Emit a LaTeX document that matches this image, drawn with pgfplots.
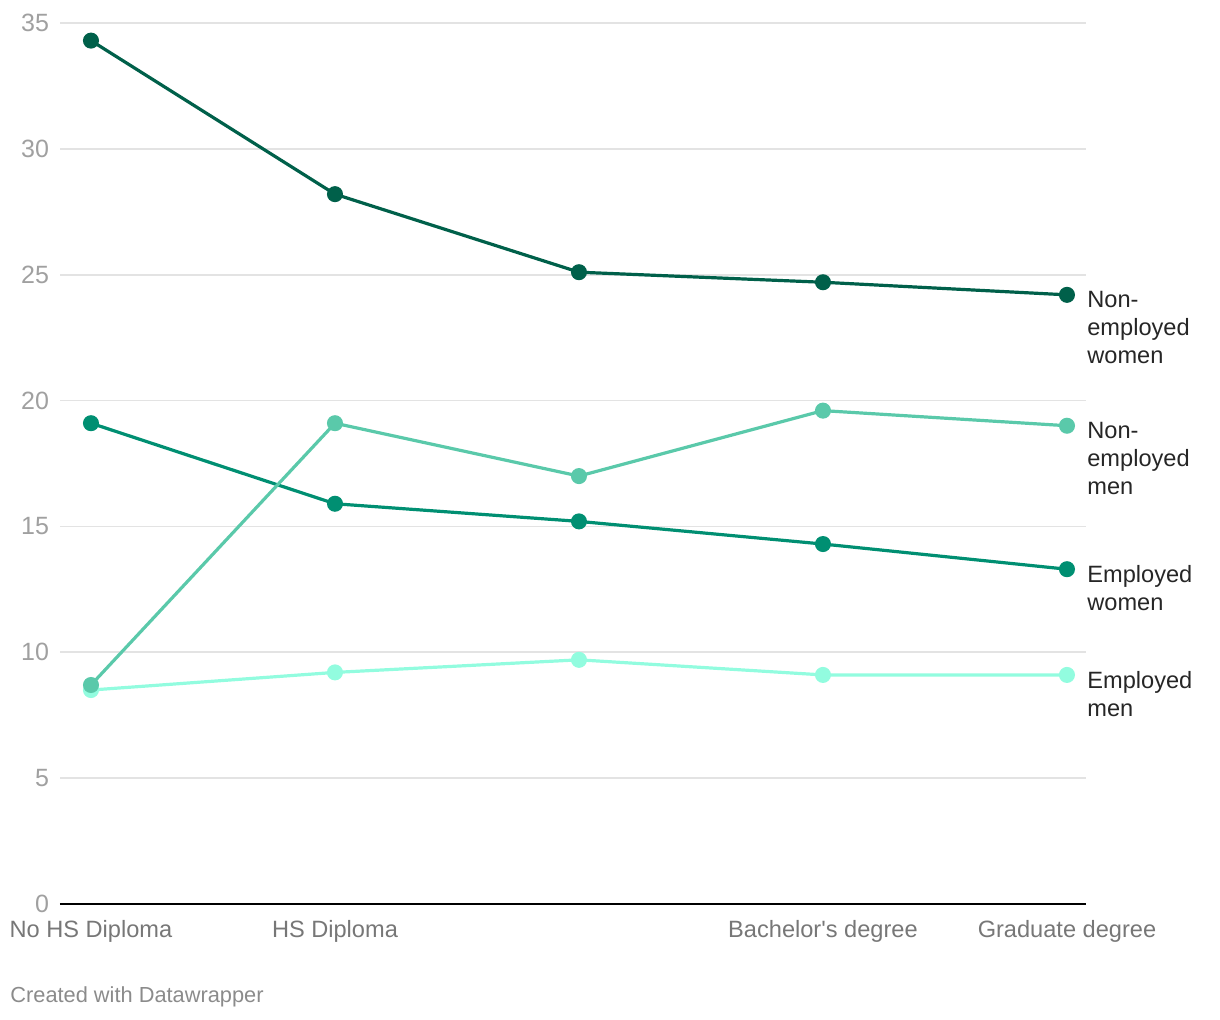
\documentclass[border=0pt]{standalone}
\usepackage{pgfplots}
\pgfplotsset{compat=1.18}
\usepackage{fontspec}
\setmainfont{Liberation Sans}

\definecolor{newomen}{HTML}{00604A}
\definecolor{nemen}{HTML}{5AC9AA}
\definecolor{ewomen}{HTML}{008F72}
\definecolor{emen}{HTML}{92FCDF}
\definecolor{gridc}{HTML}{E3E3E3}
\definecolor{ylab}{HTML}{A0A0A0}
\definecolor{xlab}{HTML}{777777}

% 1 px of the reference = 0.5pt
\begin{document}
\begin{tikzpicture}[x=0.5pt,y=0.5pt]
\useasboundingbox (-60,-116) rectangle (1160,904);
\begin{axis}[
  at={(0,0)}, anchor=south west,
  scale only axis,
  width=513pt, height=440.5pt,
  xmin=-0.127, xmax=4.078,
  ymin=0, ymax=35,
  axis line style={draw=none},
  xtick={0,1,2,3,4},
  xticklabels={No HS Diploma,HS Diploma,,Bachelor\textquotesingle s degree,Graduate degree},
  xticklabel style={font=\fontsize{11.8}{13}\selectfont, text=xlab, yshift=-4.5pt},
  ytick={0,5,...,35},
  yticklabel style={font=\fontsize{12.5}{14}\selectfont, text=ylab, anchor=east, xshift=-2pt},
  /pgf/number format/assume math mode=true,
  major tick length=0pt,
  ymajorgrids=true,
  grid style={gridc, line width=0.8pt},
  clip=false,
  every axis plot/.append style={line width=1.6pt, mark=*, mark size=3.2pt},
]
\draw[black, line width=1pt] (axis cs:-0.127,0) -- (axis cs:4.078,0);

\addplot[emen, mark options={fill=emen, draw=emen}] coordinates {(0,8.5) (1,9.2) (2,9.7) (3,9.1) (4,9.1)};
\addplot[ewomen, mark options={fill=ewomen, draw=ewomen}] coordinates {(0,19.1) (1,15.9) (2,15.2) (3,14.3) (4,13.3)};
\addplot[nemen, mark options={fill=nemen, draw=nemen}] coordinates {(0,8.7) (1,19.1) (2,17.0) (3,19.6) (4,19.0)};
\addplot[newomen, mark options={fill=newomen, draw=newomen}] coordinates {(0,34.3) (1,28.2) (2,25.1) (3,24.7) (4,24.2)};

\begin{scope}[every node/.style={anchor=north west, align=left, inner sep=0pt,
    font=\fontsize{11.8}{14}\selectfont, text=black!85}]
\node at ([xshift=10pt, yshift=2pt]axis cs:4,24.2) {Non-\\employed\\women};
\node at ([xshift=10pt, yshift=2pt]axis cs:4,19.0) {Non-\\employed\\men};
\node at ([xshift=10pt, yshift=2pt]axis cs:4,13.3) {Employed\\women};
\node at ([xshift=10pt, yshift=2pt]axis cs:4,9.1) {Employed\\men};
\end{scope}
\end{axis}
\node[anchor=west, inner sep=0pt, font=\fontsize{10.9}{12}\selectfont, text=xlab!85] at (-50,-93) {Created with Datawrapper};
\end{tikzpicture}
\end{document}
